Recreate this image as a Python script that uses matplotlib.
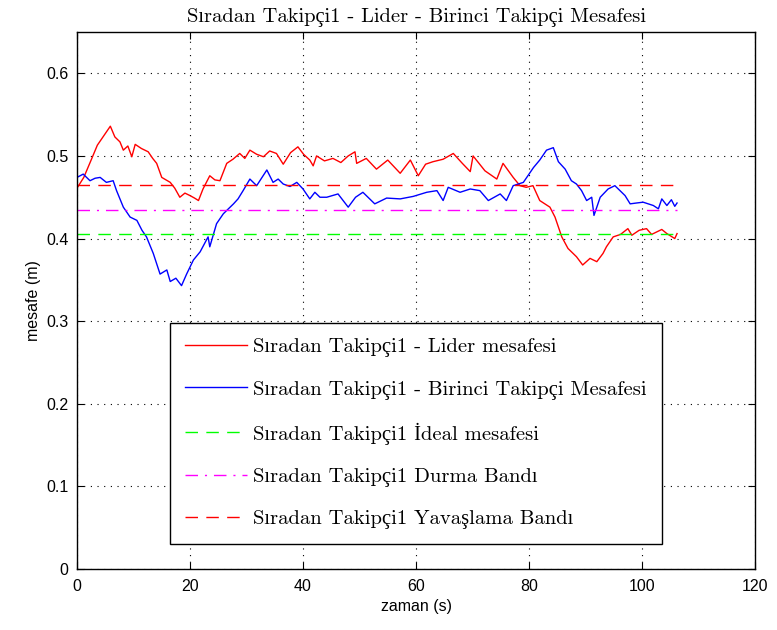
import matplotlib
matplotlib.use("Agg")
import matplotlib.pyplot as plt

# time (s) and distance (m)
lider_t = [0, 1.2, 2.5, 3.6, 4.8, 5.9, 6.7, 7.6, 8.2, 9.0, 9.7, 10.3, 11.4, 12.6, 13.4, 14.1, 15.0,
           16.5, 17.3, 18.2, 19.1, 20.0, 20.8, 21.5, 22.3, 23.5, 24.4, 25.3, 26.5, 27.6, 28.8, 29.7,
           30.6, 31.8, 33.0, 34.1, 35.3, 36.5, 37.8, 39.1, 40.1, 41.2, 41.8, 42.4, 43.8, 45.3, 46.7,
           48.0, 49.2, 49.5, 51.2, 53.0, 55.0, 57.2, 59.0, 60.4, 61.7, 63.0, 64.8, 66.6, 68.2, 69.6,
           70.1, 72.2, 74.3, 75.4, 77.2, 78.4, 79.5, 80.7, 81.9, 83.7, 84.6, 85.8, 86.9, 88.4, 89.5,
           90.8, 92.0, 93.1, 93.7, 94.9, 96.2, 97.5, 98.2, 99.5, 100.8, 101.7, 102.6, 103.5, 104.4,
           105.8, 106.2]
lider_d = [0.461, 0.474, 0.495, 0.513, 0.525, 0.536, 0.523, 0.517, 0.507, 0.512, 0.499, 0.514, 0.509,
           0.505, 0.497, 0.491, 0.474, 0.468, 0.461, 0.450, 0.455, 0.452, 0.449, 0.446, 0.460, 0.476,
           0.471, 0.470, 0.491, 0.496, 0.503, 0.497, 0.507, 0.502, 0.499, 0.506, 0.503, 0.490, 0.504,
           0.511, 0.502, 0.495, 0.488, 0.500, 0.494, 0.497, 0.492, 0.500, 0.505, 0.491, 0.497, 0.484,
           0.495, 0.479, 0.495, 0.476, 0.490, 0.493, 0.496, 0.503, 0.491, 0.481, 0.500, 0.482, 0.472,
           0.491, 0.474, 0.464, 0.462, 0.464, 0.446, 0.438, 0.426, 0.402, 0.388, 0.378, 0.368, 0.376,
           0.372, 0.382, 0.390, 0.402, 0.405, 0.412, 0.404, 0.410, 0.412, 0.405, 0.408, 0.411, 0.406,
           0.400, 0.406]

birinci_t = [0, 1.1, 2.3, 3.2, 4.1, 5.2, 6.4, 7.0, 8.2, 9.4, 10.6, 11.5, 12.3, 13.5, 14.7, 15.9,
             16.5, 17.5, 18.5, 19.4, 20.6, 21.8, 23.2, 23.5, 24.7, 25.9, 26.8, 27.7, 28.5, 29.4,
             30.6, 31.8, 33.6, 34.7, 35.6, 36.5, 37.7, 38.9, 40.0, 41.2, 42.1, 43.0, 44.2, 45.2,
             46.2, 48.0, 49.3, 50.6, 52.7, 54.8, 57.2, 59.5, 61.9, 63.7, 64.8, 65.7, 67.8, 69.6,
             71.3, 72.8, 74.9, 76.0, 77.2, 79.0, 80.8, 81.9, 83.1, 84.3, 85.2, 86.4, 87.5, 88.4,
             89.3, 90.2, 91.1, 91.5, 92.6, 94.0, 95.2, 96.1, 97.0, 97.9, 99.0, 100.2, 101.1, 102.0,
             102.9, 103.5, 104.4, 105.2, 105.8, 106.2]
birinci_d = [0.474, 0.478, 0.470, 0.473, 0.474, 0.468, 0.470, 0.458, 0.438, 0.426, 0.422, 0.410,
             0.402, 0.382, 0.357, 0.362, 0.348, 0.352, 0.343, 0.357, 0.374, 0.384, 0.402, 0.390,
             0.418, 0.430, 0.436, 0.442, 0.448, 0.458, 0.472, 0.464, 0.483, 0.468, 0.472, 0.466,
             0.463, 0.468, 0.460, 0.448, 0.456, 0.450, 0.450, 0.452, 0.454, 0.438, 0.450, 0.456,
             0.442, 0.449, 0.448, 0.451, 0.456, 0.458, 0.446, 0.462, 0.456, 0.460, 0.458, 0.446,
             0.454, 0.446, 0.464, 0.468, 0.486, 0.495, 0.507, 0.510, 0.493, 0.484, 0.470, 0.466,
             0.458, 0.446, 0.450, 0.428, 0.450, 0.460, 0.464, 0.458, 0.452, 0.442, 0.443, 0.444,
             0.442, 0.440, 0.436, 0.448, 0.440, 0.447, 0.439, 0.443]

band_t = [0, 106.2]
ideal = 0.405
durma = 0.435
yavaslama = 0.465

labels = ["Sıradan Takipçi1 - Lider mesafesi",
          "Sıradan Takipçi1 - Birinci Takipçi Mesafesi",
          "Sıradan Takipçi1 İdeal mesafesi",
          "Sıradan Takipçi1 Durma Bandı",
          "Sıradan Takipçi1 Yavaşlama Bandı"]

serif = ["cmr10", "Liberation Serif", "DejaVu Serif"]
plt.rcParams["font.family"] = ["Liberation Sans", "DejaVu Sans"]

fig = plt.figure(figsize=(7.77, 6.3), dpi=100)
ax = fig.add_axes([0.0991, 0.0968, 0.8726, 0.8524])

ax.plot(lider_t, lider_d, color="#ff0000", lw=1.0, label=labels[0])
ax.plot(birinci_t, birinci_d, color="#0000ff", lw=1.0, label=labels[1])
ax.plot(band_t, [ideal, ideal], color="#00ff00", lw=1.0, dashes=(9, 6), label=labels[2])
ax.plot(band_t, [durma, durma], color="#ff00ff", lw=1.0, dashes=(9, 5, 1.5, 5), label=labels[3])
ax.plot(band_t, [yavaslama, yavaslama], color="#ff0000", lw=1.0, dashes=(9, 6), label=labels[4])

ax.set_xlim(0, 120)
ax.set_ylim(0, 0.65)
ax.set_xticks(range(0, 121, 20))
ax.set_yticks([0, 0.1, 0.2, 0.3, 0.4, 0.5, 0.6])
ax.set_yticklabels(["0", "0.1", "0.2", "0.3", "0.4", "0.5", "0.6"])
ax.tick_params(direction="in", labelsize=11.5, top=True, right=True, length=5)
ax.tick_params(axis="x", pad=7)
ax.tick_params(axis="y", pad=6)
ax.grid(True, color="black", linestyle=(0, (1, 5)), lw=0.8)
for s in ax.spines.values():
    s.set_linewidth(1.0)

ax.set_xlabel("zaman (s)", fontsize=11.5, labelpad=4)
ax.set_ylabel("mesafe (m)", fontsize=11.5, labelpad=4)
ax.set_title("Sıradan Takipçi1 - Lider - Birinci Takipçi Mesafesi",
             fontsize=14.8, family=serif, pad=7)

leg = ax.legend(loc="upper left", bbox_to_anchor=(0.137, 0.458), borderaxespad=0,
                prop={"family": serif, "size": 14.9}, handlelength=3.0,
                labelspacing=1.1, fancybox=False, edgecolor="black",
                framealpha=1, borderpad=0.72, handletextpad=0.3)
leg.get_frame().set_linewidth(1.0)

fig.savefig("out.png", dpi=100)
